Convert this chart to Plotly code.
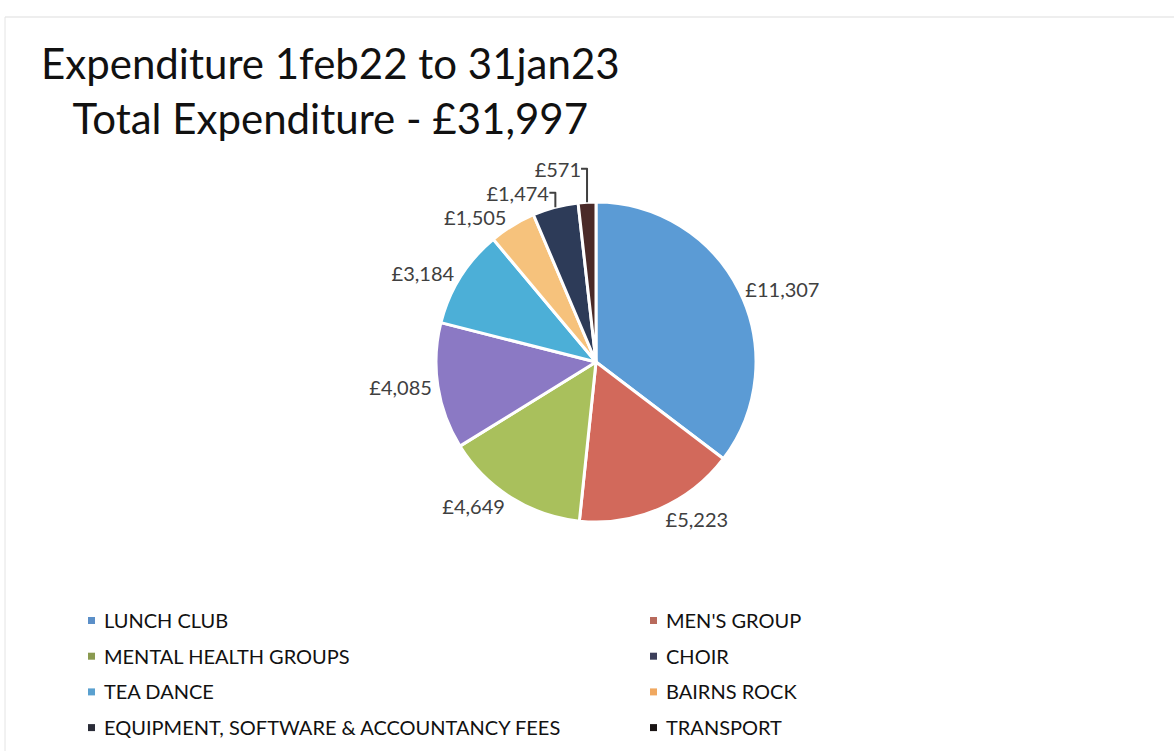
import plotly.graph_objects as go

W, H = 1174, 751

labels = ["LUNCH CLUB", "MEN'S GROUP", "MENTAL HEALTH GROUPS", "CHOIR", "TEA DANCE",
          "BAIRNS ROCK", "EQUIPMENT, SOFTWARE & ACCOUNTANCY FEES", "TRANSPORT"]
values = [11307, 5223, 4649, 4085, 3184, 1505, 1474, 571]
colors = ["#5b9bd5", "#d2695b", "#a9c05c", "#8b79c4", "#4cafd7", "#f6c27c", "#2d3b58", "#4a2a28"]
legend_colors = ["#5b8fc8", "#b86a5c", "#8a9a50", "#3c3f5a", "#5aa0cf", "#f0a860", "#2a2c38", "#1a1414"]
title_lines = ["Expenditure 1feb22 to 31jan23", "Total Expenditure - £31,997"]

FONT = "Lato"

fig = go.Figure()
fig.add_trace(go.Pie(
    labels=labels, values=values, sort=False, direction="clockwise", rotation=0,
    marker=dict(colors=colors, line=dict(color="white", width=3)),
    texttemplate="£%{value:,}", textposition="outside",
    textfont=dict(family=FONT, size=20, color="#404040"),
    domain=dict(x=[434 / W, 758 / W], y=[1 - 522 / H, 1 - 202 / H]),
    showlegend=False, hoverinfo="label+value",
))

annotations = [dict(
    text="<br>".join(title_lines), x=330 / W, y=1 - 36 / H, xref="paper", yref="paper",
    xanchor="center", yanchor="top", showarrow=False, align="center",
    font=dict(family=FONT, size=42, color="#111111"))]
shapes = [
    dict(type="line", xref="paper", yref="paper", x0=5 / W, x1=1, y0=1 - 17 / H, y1=1 - 17 / H,
         line=dict(color="#dddddd", width=1)),
    dict(type="line", xref="paper", yref="paper", x0=5 / W, x1=5 / W, y0=0, y1=1 - 17 / H,
         line=dict(color="#e4e4e4", width=1)),
]
col_x = [88, 650]
row_y0, row_dy = 620, 35.7
for i, (lab, c) in enumerate(zip(labels, legend_colors)):
    cx = col_x[i % 2]
    cy = row_y0 + (i // 2) * row_dy
    shapes.append(dict(type="rect", xref="paper", yref="paper",
                       x0=cx / W, x1=(cx + 7) / W, y0=1 - (cy + 4) / H, y1=1 - (cy - 3) / H,
                       fillcolor=c, line=dict(width=0)))
    annotations.append(dict(text=lab, x=(cx + 14) / W, y=1 - cy / H, xref="paper", yref="paper",
                            xanchor="left", yanchor="middle", showarrow=False,
                            font=dict(family=FONT, size=20, color="#111111")))

fig.update_layout(
    width=W, height=H, margin=dict(l=0, r=0, t=0, b=0),
    paper_bgcolor="white", plot_bgcolor="white",
    annotations=annotations, shapes=shapes, showlegend=False,
)
fig.write_html("out.html", config={"displayModeBar": False},
               post_script="document.body.style.margin='0';document.body.style.overflow='hidden';")
